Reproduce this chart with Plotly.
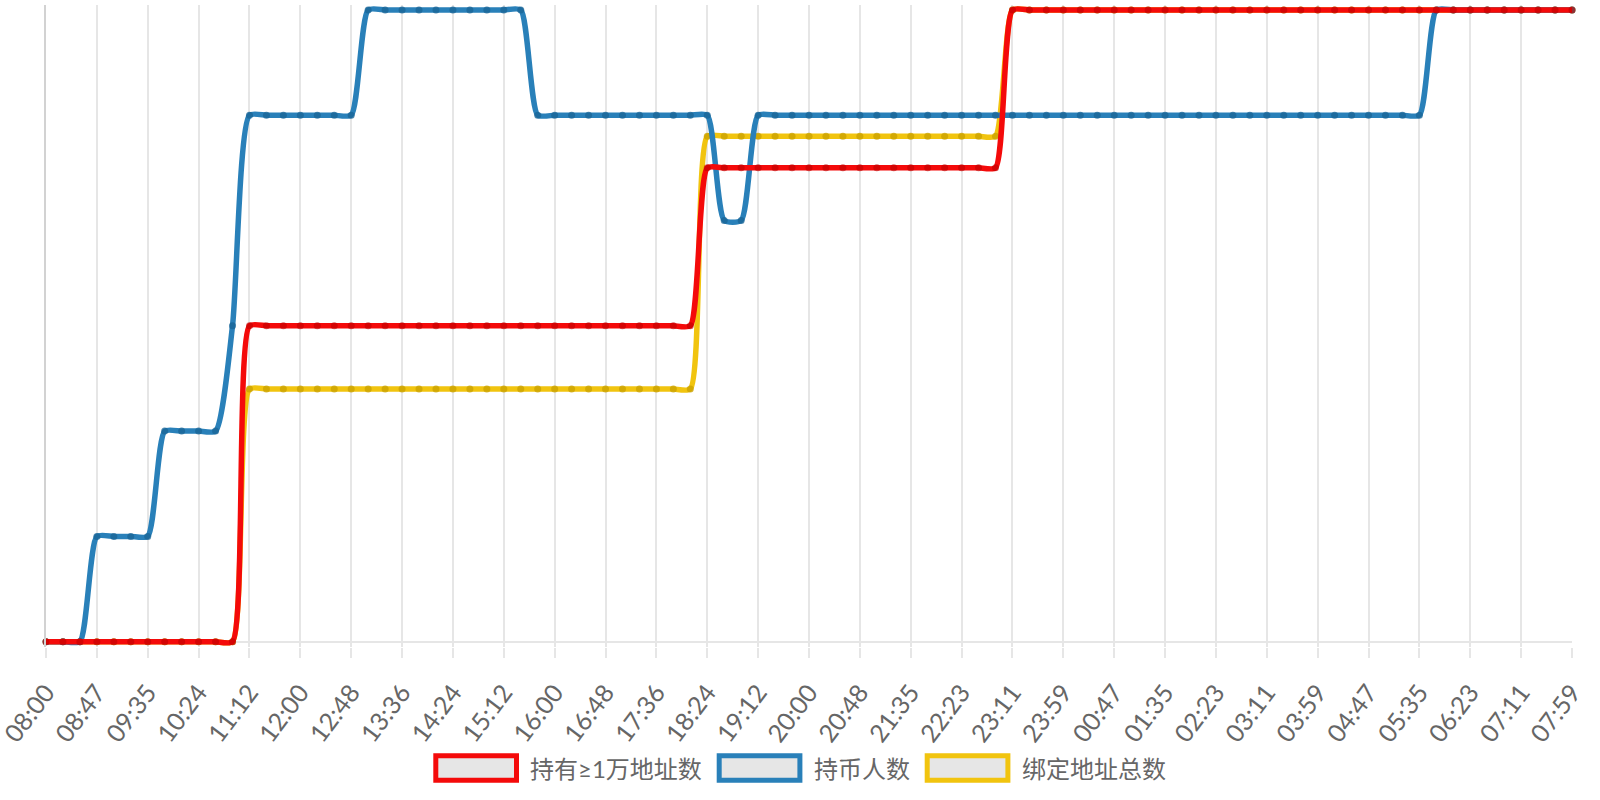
import plotly.graph_objects as go

# x 轴刻度（每 3 个数据点一个刻度）
tick_labels = ["08:00", "08:47", "09:35", "10:24", "11:12", "12:00", "12:48", "13:36",
               "14:24", "15:12", "16:00", "16:48", "17:36", "18:24", "19:12", "20:00",
               "20:48", "21:35", "22:23", "23:11", "23:59", "00:47", "01:35", "02:23",
               "03:11", "03:59", "04:47", "05:35", "06:23", "07:11", "07:59"]

# 持有≥1万地址数
holders_10k = [0, 0, 0, 0, 0, 0, 0, 0, 0, 0, 0, 0,
               2, 2, 2, 2, 2, 2, 2, 2, 2, 2, 2, 2, 2, 2, 2, 2, 2, 2, 2, 2, 2, 2, 2, 2, 2, 2, 2,
               3, 3, 3, 3, 3, 3, 3, 3, 3, 3, 3, 3, 3, 3, 3, 3, 3, 3,
               4, 4, 4, 4, 4, 4, 4, 4, 4, 4, 4, 4, 4, 4, 4, 4, 4, 4, 4, 4, 4, 4, 4, 4, 4, 4, 4, 4, 4, 4, 4, 4, 4, 4]

# 持币人数
holders = [0, 0, 0, 1, 1, 1, 1, 2, 2, 2, 2, 3,
           5, 5, 5, 5, 5, 5, 5,
           6, 6, 6, 6, 6, 6, 6, 6, 6, 6,
           5, 5, 5, 5, 5, 5, 5, 5, 5, 5, 5,
           4, 4,
           5, 5, 5, 5, 5, 5, 5, 5, 5, 5, 5, 5, 5, 5, 5, 5, 5, 5, 5, 5,
           5, 5, 5, 5, 5, 5, 5, 5, 5, 5, 5, 5, 5, 5, 5, 5, 5, 5, 5, 5,
           6, 6, 6, 6, 6, 6, 6, 6, 6]

# 绑定地址总数
bound_addr = [0, 0, 0, 0, 0, 0, 0, 0, 0, 0, 0, 0,
              2, 2, 2, 2, 2, 2, 2, 2, 2, 2, 2, 2, 2, 2, 2, 2, 2, 2, 2, 2, 2, 2, 2, 2, 2, 2, 2,
              4, 4, 4, 4, 4, 4, 4, 4, 4, 4, 4, 4, 4, 4, 4, 4, 4, 4,
              5, 5, 5, 5, 5, 5, 5, 5, 5, 5, 5, 5, 5, 5, 5, 5, 5, 5, 5, 5, 5, 5, 5, 5, 5, 5, 5, 5, 5, 5, 5, 5, 5, 5]

W, H = 1600, 800
L, R, T, B = 46, 28, 5, 153
PW, PH = W - L - R, H - T - B

RED = "rgb(244,10,10)"
BLUE = "rgb(41,128,185)"
YELLOW = "rgb(241,196,15)"
GRID = "#e6e6e6"
TEXT = "#666666"


def yrange(vals):
    # 每条线单独缩放，最小值贴底、最大值贴顶，留一点边避免线被裁掉
    m = max(vals)
    return [-m * 5.3 / 631.8, m * (1 + 4.9 / 631.8)]


def px(x):
    return (x - L) / PW


def py(y):
    return (T + PH - y) / PH


xs = list(range(len(holders)))

fig = go.Figure()

# 红线在最上层，黄线在最下层（y3 盖在 y2、y 之上）
series = [
    ("绑定地址总数", bound_addr, YELLOW, "rgba(200,160,0,0.75)", "y"),
    ("持币人数", holders, BLUE, "rgba(25,100,150,0.75)", "y2"),
    ("持有≥1万地址数", holders_10k, RED, "rgba(190,0,0,0.6)", "y3"),
]
for name, vals, color, mk, yax in series:
    fig.add_trace(go.Scatter(
        x=xs, y=vals, name=name, yaxis=yax,
        mode="lines+markers",
        line=dict(color=color, width=5.5, shape="spline", smoothing=0.6),
        marker=dict(size=7, color=mk, line=dict(width=0)),
        cliponaxis=False,
        showlegend=False,
        hoverinfo="x+y+name",
    ))

hidden_y = dict(showticklabels=False, showgrid=False, zeroline=False,
                fixedrange=True, automargin=False)

fig.update_layout(
    width=W, height=H,
    margin=dict(l=L, r=R, t=T, b=B, pad=0, autoexpand=False),
    plot_bgcolor="white",
    paper_bgcolor="white",
    font=dict(family="Lato, 'Noto Sans CJK SC'", color=TEXT, size=24),
    showlegend=False,
    xaxis=dict(
        range=[0, len(holders) - 1],
        tickmode="array",
        tickvals=xs[::3],
        ticktext=tick_labels,
        tickangle=-53,
        ticks="outside", ticklen=10, tickwidth=2, tickcolor=GRID,
        ticklabelstandoff=10,
        ticklabeloverflow="allow",
        automargin=False,
        showgrid=True, gridcolor=GRID, gridwidth=2,
        zeroline=False, showline=False,
        tickfont=dict(size=25, color=TEXT, family="Lato"),
    ),
    yaxis=dict(range=yrange(bound_addr), showticklabels=False, showgrid=False,
               zeroline=True, zerolinecolor=GRID, zerolinewidth=2,
               showline=True, linecolor="#d2d2d2", linewidth=2, automargin=False),
    yaxis2=dict(range=yrange(holders), overlaying="y", **hidden_y),
    yaxis3=dict(range=yrange(holders_10k), overlaying="y", **hidden_y),
)

# 底部图例：灰色填充的彩色边框方块 + 文字
legend_items = [
    ("持有≥1万地址数", RED, 433.3, 528),
    ("持币人数", BLUE, 716.7, 812),
    ("绑定地址总数", YELLOW, 924.7, 1020),
]
for label, color, bx, tx in legend_items:
    fig.add_shape(
        type="rect", xref="paper", yref="paper",
        x0=px(bx + 2.5), x1=px(bx + 85.7 - 2.5),
        y0=py(782.7 - 2.5), y1=py(753.3 + 2.5),
        line=dict(color=color, width=5),
        fillcolor="#e6e6e6",
    )
    fig.add_annotation(
        xref="paper", yref="paper",
        x=px(tx), y=py(768),
        xanchor="left", yanchor="middle",
        text=label, showarrow=False,
        font=dict(size=24, color=TEXT, family="Lato, 'Noto Sans CJK SC'"),
    )

fig.write_html("out.html", config={"displayModeBar": False},
               post_script="document.body.style.margin='0px';")
